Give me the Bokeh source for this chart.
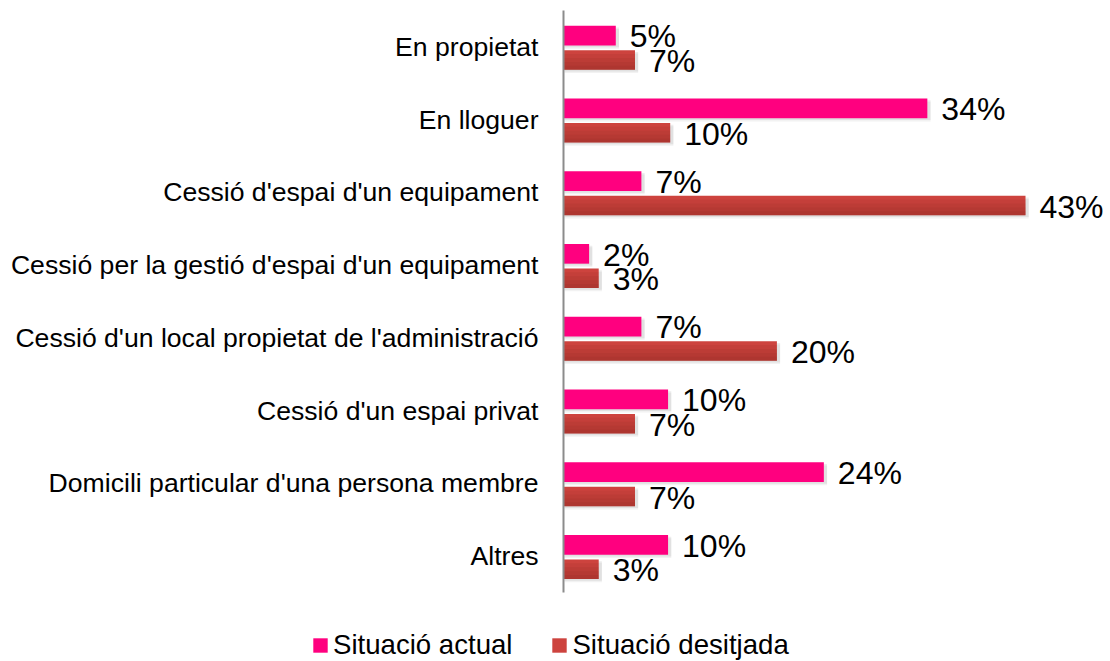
from bokeh.plotting import figure
from bokeh.models import ColumnDataSource, Legend, LegendItem, LinearAxis, FixedTicker, Range1d
from bokeh.transform import dodge
from bokeh.core.properties import value
from bokeh.embed import file_html
from bokeh.resources import INLINE

categories = [
    "En propietat",
    "En lloguer",
    "Cessió d'espai d'un equipament",
    "Cessió per la gestió d'espai d'un equipament",
    "Cessió d'un local propietat de l'administració",
    "Cessió d'un espai privat",
    "Domicili particular d'una persona membre",
    "Altres",
]
actual = [4.9, 34.1, 7.3, 2.4, 7.3, 9.8, 24.4, 9.8]
desired = [6.7, 10.0, 43.3, 3.3, 20.0, 6.7, 6.7, 3.3]
actual_labels = ["5%", "34%", "7%", "2%", "7%", "10%", "24%", "10%"]
desired_labels = ["7%", "10%", "43%", "3%", "20%", "7%", "7%", "3%"]

n = len(categories)
pos = [n - 1 - i for i in range(n)]  # first category on top

src = ColumnDataSource(dict(
    cat=categories, pos=pos, zero=[0] * n,
    actual=actual, desired=desired,
    actual_lab=actual_labels, desired_lab=desired_labels,
    actual_sh=[v + 0.3 for v in actual], desired_sh=[v + 0.3 for v in desired],
))

FONT = "Liberation Sans"
W, H = 1110, 661
PXU = 10.67     # pixels per percent
AX = 563        # x pixel of the value axis
BAND = 72.75    # pixels per category
TOP = 10        # y pixel of the top of the category axis
x_range = Range1d(-AX / PXU, (W - AX) / PXU)
y_range = Range1d(-0.5 - (H - TOP - n * BAND) / BAND, n - 0.5 + TOP / BAND)

p = figure(width=W, height=H, output_backend="svg", toolbar_location=None,
           x_range=x_range, y_range=y_range,
           min_border_left=0, min_border_right=0, min_border_top=0, min_border_bottom=0)
p.xaxis.visible = False
p.yaxis.visible = False
p.xgrid.grid_line_color = None
p.ygrid.grid_line_color = None
p.outline_line_color = None

# category axis line
cax = LinearAxis(fixed_location=0, bounds=(-0.5, n - 0.5), ticker=FixedTicker(ticks=[]),
                 axis_line_color="#8C8C8C", axis_line_width=2,
                 major_tick_line_color=None, minor_tick_line_color=None,
                 major_label_text_font_size="0px")
p.add_layout(cax, "left")

BH = 0.27
OA, OD = 0.155, -0.18

# soft shadows
for off, a in ((0.045, 0.10), (0.025, 0.14)):
    p.hbar(y=dodge("pos", OA - off, range=y_range), right="actual_sh", left=0.1, height=BH,
           source=src, fill_color="#7F7F7F", fill_alpha=a, line_color=None)
    p.hbar(y=dodge("pos", OD - off, range=y_range), right="desired_sh", left=0.1, height=BH,
           source=src, fill_color="#7F7F7F", fill_alpha=a, line_color=None)

r1 = p.hbar(y=dodge("pos", OA, range=y_range), right="actual", left=0, height=BH,
            source=src, fill_color="#FF007F", line_color=None)
r2 = p.hbar(y=dodge("pos", OD, range=y_range), right="desired", left=0, height=BH,
            source=src, fill_color="#CD433E", line_color=None)
# gradually darker lower parts for the gradient look
bottom = OD - BH / 2
for f in (0.8, 0.6, 0.4, 0.2):
    p.hbar(y=dodge("pos", bottom + BH * f / 2, range=y_range), right="desired", left=0,
           height=BH * f, source=src, fill_color="#6E1C1A", fill_alpha=0.09, line_color=None)

# value labels
p.text(x="actual", y=dodge("pos", 0.145, range=y_range), text="actual_lab", source=src,
       x_offset=14, text_baseline="middle", text_align="left",
       text_font=value(FONT), text_font_size="32px", text_color="#000000")
p.text(x="desired", y=dodge("pos", -0.195, range=y_range), text="desired_lab", source=src,
       x_offset=14, text_baseline="middle", text_align="left",
       text_font=value(FONT), text_font_size="32px", text_color="#000000")

# category labels
p.text(x="zero", y="pos", text="cat", source=src, x_offset=-25,
       text_baseline="middle", text_align="right",
       text_font=value(FONT), text_font_size="26.6px", text_color="#000000")

legend = Legend(items=[LegendItem(label="Situació actual", renderers=[r1]),
                       LegendItem(label="Situació desitjada", renderers=[r2])],
                orientation="horizontal", location=(311, 0),
                glyph_width=18, glyph_height=18, label_standoff=4, spacing=38,
                padding=0, margin=0, border_line_color=None, background_fill_alpha=0,
                label_text_font=FONT, label_text_font_size="27.6px",
                label_text_color="#000000")
p.add_layout(legend, "center")

open("out.html", "w").write(file_html(p, INLINE))
